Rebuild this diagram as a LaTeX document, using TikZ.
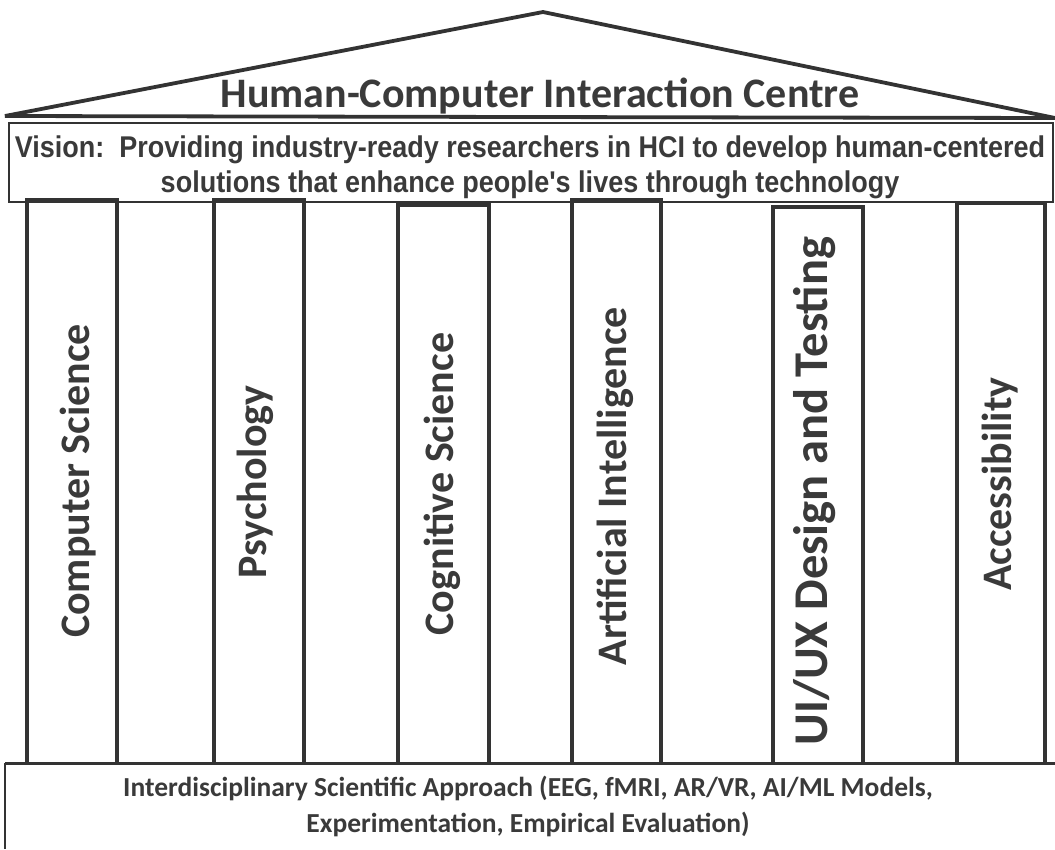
\documentclass[tikz,border=0pt]{standalone}
\usepackage{fontspec}
\setmainfont{Carlito}
\newfontfamily\visionfont[FakeStretch=0.9]{Liberation Sans}
\definecolor{ink}{HTML}{333333}
\definecolor{txt}{HTML}{3A3A3A}
\begin{document}
\begin{tikzpicture}[x=1pt,y=-1pt,
  pillar/.style={draw=ink,line width=3.2pt},
  pillartext/.style={rotate=90,font=\fontsize{42}{46}\selectfont\bfseries,text=txt,anchor=center,inner sep=0pt},
  boxline/.style={draw=ink,line width=1.6pt}]
\useasboundingbox (0,0) rectangle (1055,849);
% roof
\coordinate (apex) at (543,12);
\coordinate (rl) at (5,116);
\coordinate (rr) at (1055,118);
\draw[draw=ink,line width=3.8pt,line join=miter] (rl) -- (apex) -- (rr) -- cycle;
\node[font=\fontsize{42}{46}\selectfont\bfseries,text=txt,inner sep=0pt,anchor=base] (title) at (540,107) {Human-Computer Interaction Centre};
% vision box
\draw[boxline] (9,123) rectangle (1053,202);
\node[font=\visionfont\fontsize{30}{35}\selectfont\bfseries,text=txt,align=center,inner sep=0pt] (vision) at (530,167)
 {Vision:\ \ Providing industry-ready researchers in HCI to develop human-centered\\ solutions that enhance people's lives through technology};
% pillars
\draw[pillar] (27,762) |- (117,200) -- (117,762);
\draw[pillar] (214,762) |- (304,200) -- (304,762);
\draw[pillar] (398,762) |- (489,205) -- (489,762);
\draw[pillar] (572,762) |- (661,200) -- (661,762);
\draw[pillar] (773,762) |- (863,207) -- (863,762);
\draw[pillar] (957,762) |- (1045,203) -- (1045,762);
\node[pillartext] (cs) at (78,481) {Computer Science};
\node[pillartext] (psy) at (255,482) {Psychology};
\node[pillartext] (cog) at (442,484) {Cognitive Science};
\node[pillartext] (ai) at (615,486) {Artificial Intelligence};
\node[pillartext,font=\fontsize{48.5}{52}\selectfont\bfseries] (ux) at (815,491) {UI/UX Design and Testing};
\node[pillartext] (acc) at (1000,484) {Accessibility};
% base
\draw[draw=ink,line width=3pt] (5,763) -- (1055,763);
\draw[boxline] (5,763) -- (5,849);
\node[font=\fontsize{27.5}{36}\selectfont\bfseries,text=txt,align=center,inner sep=0pt] (base) at (528,806)
 {Interdisciplinary Scientific Approach (EEG, fMRI, AR/VR, AI/ML Models,\\ Experimentation, Empirical Evaluation)};
\end{tikzpicture}
\end{document}
